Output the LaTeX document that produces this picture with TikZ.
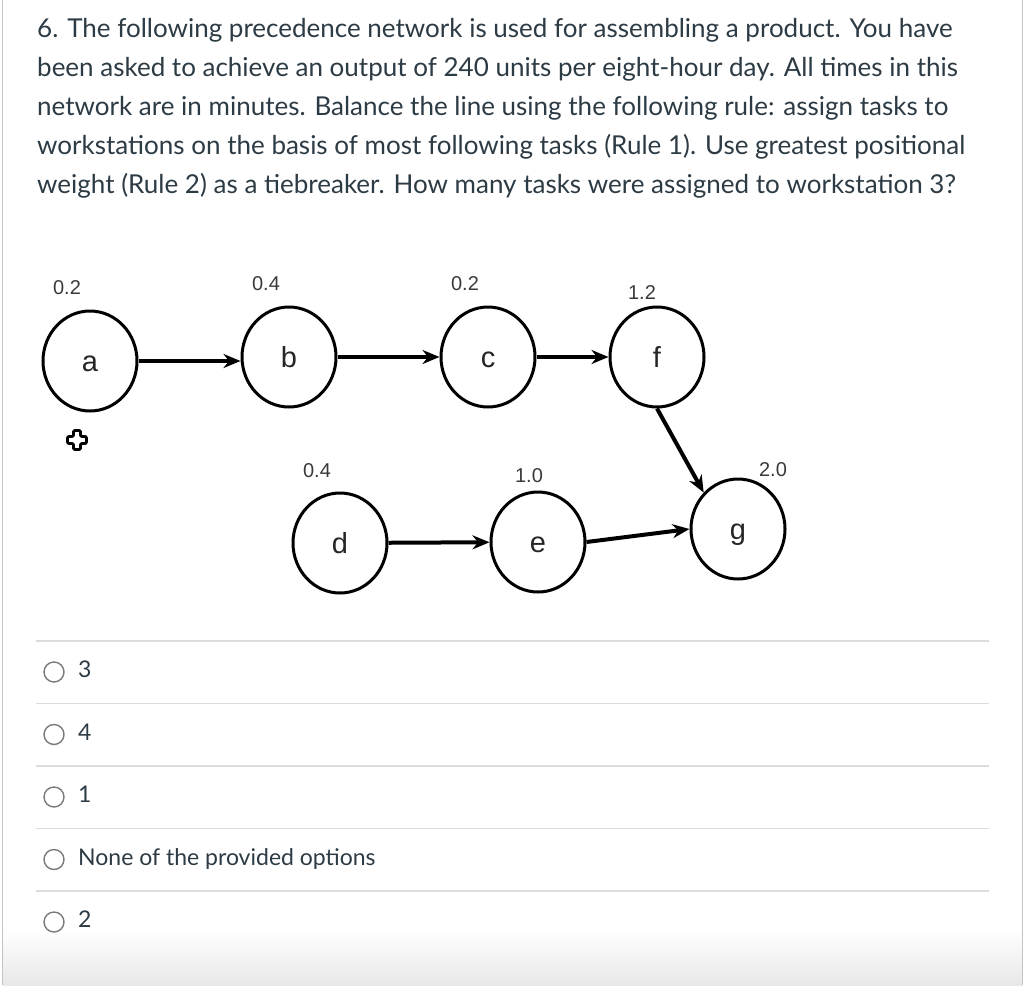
\documentclass[tikz,border=0pt]{standalone}
\usepackage{fontspec}
\setmainfont{Lato}
\newfontfamily\arialf{Liberation Sans}
\usetikzlibrary{shapes.geometric,arrows.meta}
\definecolor{canvastext}{HTML}{2D3B45}
\definecolor{rulegray}{HTML}{DCDCDC}
\definecolor{bordergray}{HTML}{C4C4C4}
\definecolor{radiogray}{HTML}{7A7A7A}
\definecolor{wgray}{HTML}{3A3A3A}
\definecolor{shadegray}{HTML}{E8E8E8}
\tikzset{
  qline/.style={anchor=base west, inner sep=0pt, text=canvastext, font=\fontsize{26}{30}\selectfont},
  optline/.style={anchor=base west, inner sep=0pt, text=canvastext, font=\fontsize{23}{27}\selectfont},
  task/.style={ellipse, draw=black, line width=3pt, minimum width=94pt, minimum height=100pt, inner sep=0pt,
    text height=21pt, text depth=0pt, font=\arialf\fontsize{29}{32}\selectfont, text=black!85},
  weight/.style={inner sep=0pt, font=\arialf\fontsize{20}{22}\selectfont, text=wgray},
  link/.style={line width=4pt, -{Stealth[length=17pt, width=14pt]}},
  radio/.style={circle, draw=radiogray, line width=1.4pt, minimum size=20pt, inner sep=0pt},
  hrule/.style={draw=rulegray, line width=1.4pt},
}
\begin{document}
\begin{tikzpicture}[x=1pt,y=-1pt]
\useasboundingbox (0,0) rectangle (1024,985);
\fill[white] (0,0) rectangle (1024,985);
\shade[top color=white, bottom color=shadegray] (2.5,930) rectangle (1022.5,985);
\draw[bordergray, line width=1.5pt] (2.5,0) -- (2.5,985);
\draw[bordergray, line width=1.5pt] (1022.5,0) -- (1022.5,985);

% question
\node[qline] (q1) at (37,37) {6. The following precedence network is used for assembling a product. You have};
\node[qline] (q2) at (37,76) {been asked to achieve an output of 240 units per eight-hour day. All times in this};
\node[qline] (q3) at (37,115) {network are in minutes. Balance the line using the following rule: assign tasks to};
\node[qline] (q4) at (37,154) {workstations on the basis of most following tasks (Rule 1). Use greatest positional};
\node[qline] (q5) at (37,193) {weight (Rule 2) as a tiebreaker. How many tasks were assigned to workstation 3?};

% network
\node[task] (a) at (90,361) {a};
\node[task] (b) at (289,357) {b};
\node[task] (c) at (488,357) {c};
\node[task] (f) at (657,357) {f};
\node[task] (d) at (340,543) {d};
\node[task] (e) at (538,542) {e};
\node[task] (g) at (738,529) {g};

\node[weight] (wa) at (67,288) {0.2};
\node[weight] (wb) at (266,284) {0.4};
\node[weight] (wc) at (465,284) {0.2};
\node[weight] (wf) at (642,293) {1.2};
\node[weight] (wd) at (317,471) {0.4};
\node[weight] (we) at (529,476) {1.0};
\node[weight] (wg) at (773,470) {2.0};

\draw[link] (a.east) -- (b.west |- a.east);
\draw[link] (b) -- (c);
\draw[link] (c) -- (f);
\draw[link] (f.south) -- (g.north west);
\draw[link] (d) -- (e);
\draw[link] (e.east) -- (g.west);

% plus icon
\draw[black, line width=2.6pt, line join=round, rounded corners=1pt]
  (73.5,430.5) -- (80.5,430.5) -- (80.5,436.5) -- (86.5,436.5) -- (86.5,443.5) -- (80.5,443.5)
  -- (80.5,449.5) -- (73.5,449.5) -- (73.5,443.5) -- (67.5,443.5) -- (67.5,436.5) -- (73.5,436.5) -- cycle;

% options
\draw[hrule] (36,641) -- (989,641);
\draw[hrule] (36,703.5) -- (989,703.5);
\draw[hrule] (36,766) -- (989,766);
\draw[hrule] (36,828.5) -- (989,828.5);
\draw[hrule] (36,891) -- (989,891);

\node[radio] (r1) at (54,672) {};
\node[radio] (r2) at (54,734.5) {};
\node[radio] (r3) at (54,797) {};
\node[radio] (r4) at (54,859.5) {};
\node[radio] (r5) at (54,922) {};

\node[optline] (o1) at (78,677.5) {3};
\node[optline] (o2) at (78,740) {4};
\node[optline] (o3) at (78,802.5) {1};
\node[optline] (o4) at (78,865) {None of the provided options};
\node[optline] (o5) at (78,927.5) {2};
\end{tikzpicture}
\end{document}
